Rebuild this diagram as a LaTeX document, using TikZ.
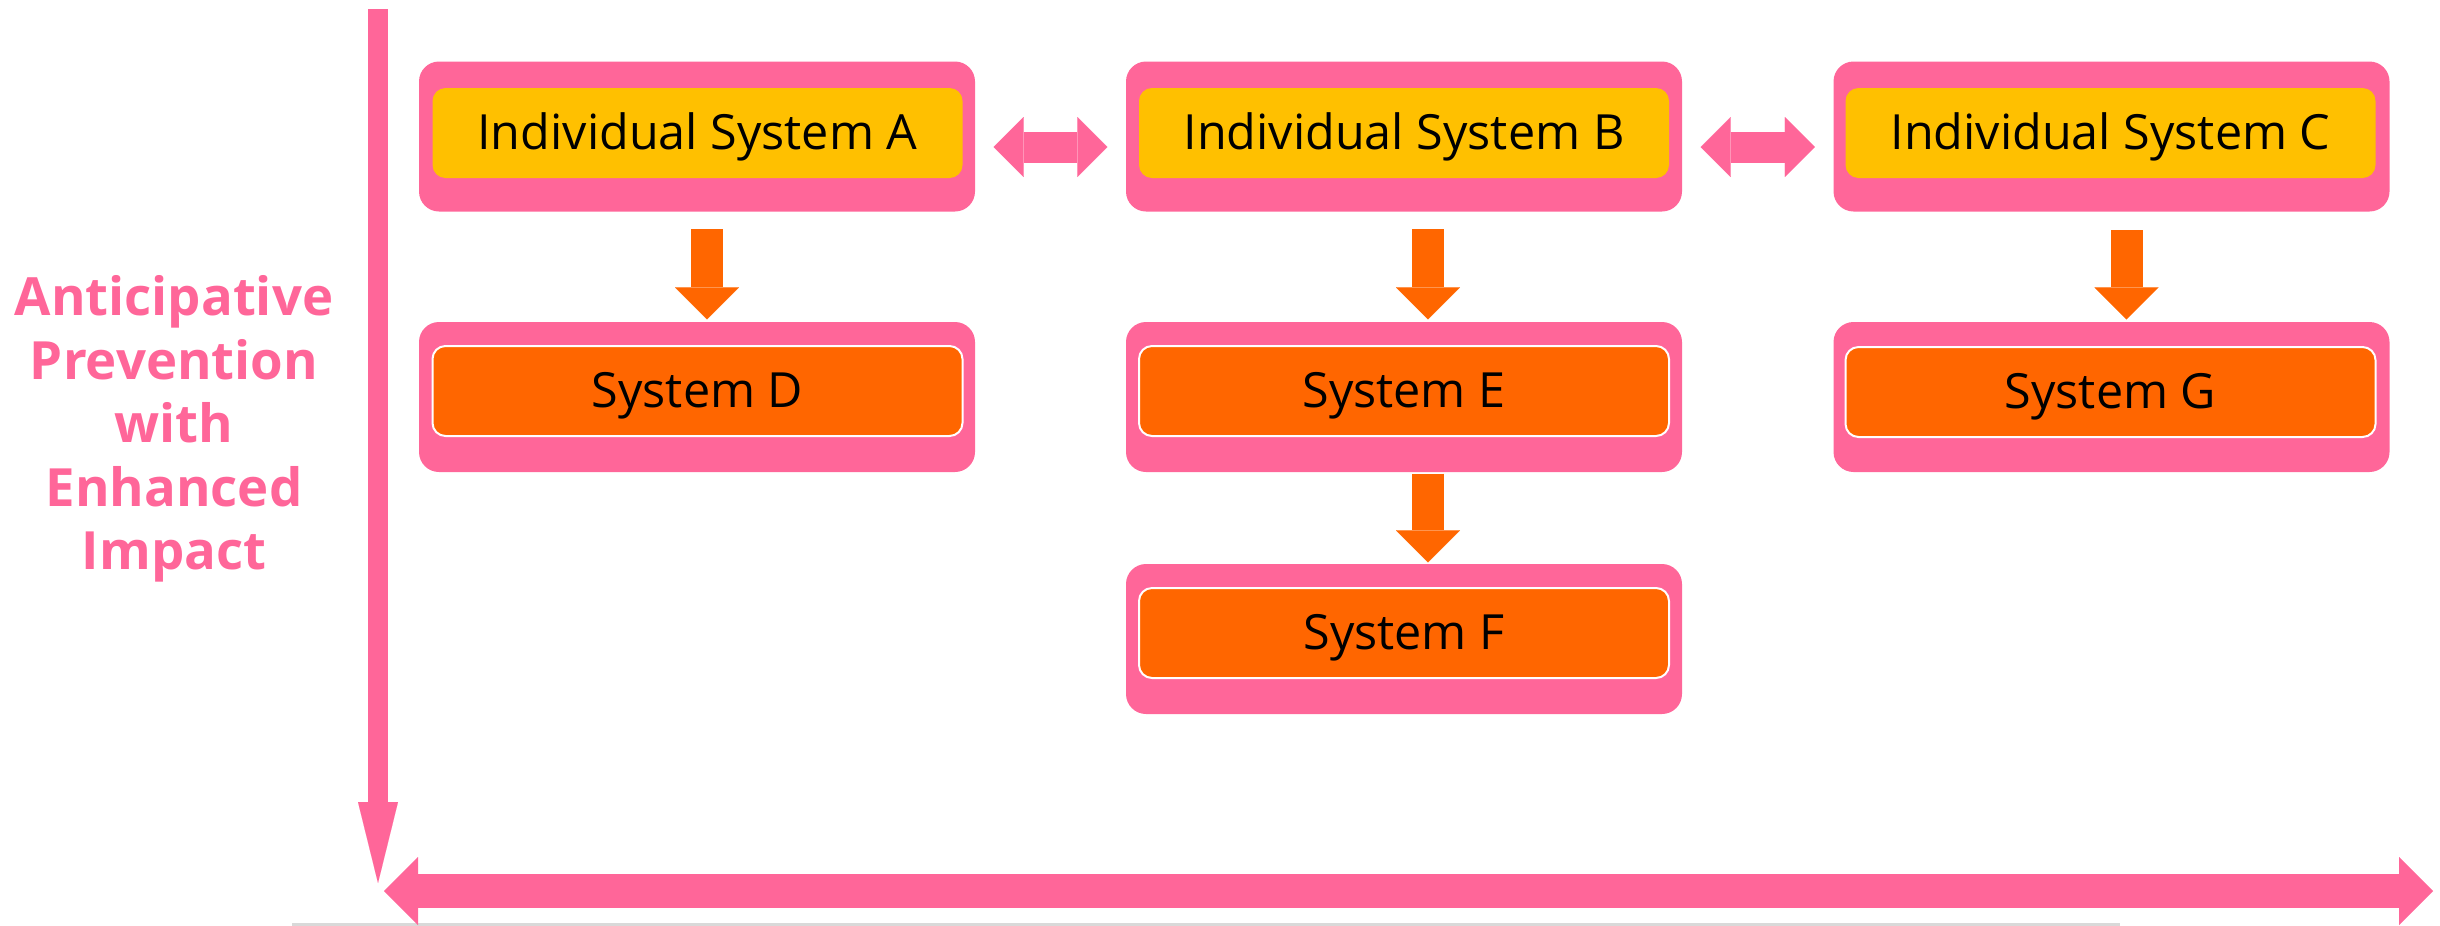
\documentclass[tikz,border=0pt]{standalone}
\usepackage{fontspec}
\setmainfont{Open Sans}
\usetikzlibrary{arrows.meta}
\definecolor{rose}{HTML}{FF6699}
\definecolor{amber}{HTML}{FFC000}
\definecolor{tangerine}{HTML}{FF6600}
\tikzset{
  panel/.style={fill=rose,rounded corners=2mm,minimum width=55.6mm,minimum height=15mm,inner sep=0pt},
  toplabel/.style={fill=amber,rounded corners=1.3mm,minimum width=53mm,minimum height=9mm,inner sep=0pt,
    text height=12.4pt,text depth=3.3pt,font=\fontsize{13.8}{16}\selectfont},
  sublabel/.style={toplabel,fill=tangerine,draw=white,line width=0.2mm},
  flow/.style={tangerine,line width=3.2mm,-{Triangle[length=3.2mm,width=6.4mm,line width=0.01pt]}},
  link/.style={rose,line width=3.1mm,{Triangle[length=3mm,width=6mm,line width=0.01pt]}-{Triangle[length=3mm,width=6mm,line width=0.01pt]}},
}
\begin{document}
\begin{tikzpicture}[x=0.1mm,y=-0.1mm]
\useasboundingbox (0,0) rectangle (2440,925);
\coordinate (baseL) at (292,924);
\coordinate (baseR) at (2120,924);
\draw[gray!30,line width=0.3mm] (baseL) -- (baseR);
\node[panel] (boxA) at (697,136.5) {};
\node[panel] (boxB) at (1404,136.5) {};
\node[panel] (boxC) at (2111.5,136.5) {};
\node[panel] (boxD) at (697,397) {};
\node[panel] (boxE) at (1404,397) {};
\node[panel] (boxG) at (2111.5,397) {};
\node[panel] (boxF) at (1404,639) {};
\node[toplabel] (A) at (697.5,133) {Individual System A};
\node[toplabel] (B) at (1404,133) {Individual System B};
\node[toplabel] (C) at (2110.5,133) {Individual System C};
\node[sublabel] (D) at (697.5,391) {System D};
\node[sublabel] (E) at (1404,391) {System E};
\node[sublabel] (G) at (2110.5,392) {System G};
\node[sublabel] (F) at (1404,633) {System F};
\draw[link] ([xshift=1.8mm,yshift=-1.05mm]boxA.east) -- ([xshift=-1.8mm,yshift=-1.05mm]boxB.west);
\draw[link] ([xshift=1.8mm,yshift=-1.05mm]boxB.east) -- ([xshift=-1.8mm,yshift=-1.05mm]boxC.west);
\draw[flow] ([xshift=1mm,yshift=-1.7mm]boxA.south) -- ([xshift=1mm,yshift=0.2mm]boxD.north);
\draw[flow] ([xshift=2.4mm,yshift=-1.7mm]boxB.south) -- ([xshift=2.4mm,yshift=0.2mm]boxE.north);
\draw[flow] ([xshift=1.5mm,yshift=-1.8mm]boxC.south) -- ([xshift=1.5mm,yshift=0.2mm]boxG.north);
\draw[flow] ([xshift=2.4mm,yshift=-0.1mm]boxE.south) -- ([xshift=2.4mm,yshift=0.1mm]boxF.north);
% axes
\coordinate (vtop) at (378,9);
\coordinate (vend) at (378,883);
\coordinate (hstart) at (384,891);
\coordinate (hend) at (2433,891);
\draw[rose,line width=2mm,-{Triangle[length=8.1mm,width=4mm,line width=0.01pt]}] (vtop) -- (vend);
\draw[rose,line width=3.4mm,{Triangle[length=3.4mm,width=6.8mm,line width=0.01pt]}-{Triangle[length=3.4mm,width=6.8mm,line width=0.01pt]}] (hstart) -- (hend);
\node[rose,font=\fontsize{15}{18.1}\selectfont\bfseries,align=center,inner sep=0pt] (axis) at (174,429) {Anticipative\\Prevention\\with\\Enhanced\\Impact};
\end{tikzpicture}
\end{document}
